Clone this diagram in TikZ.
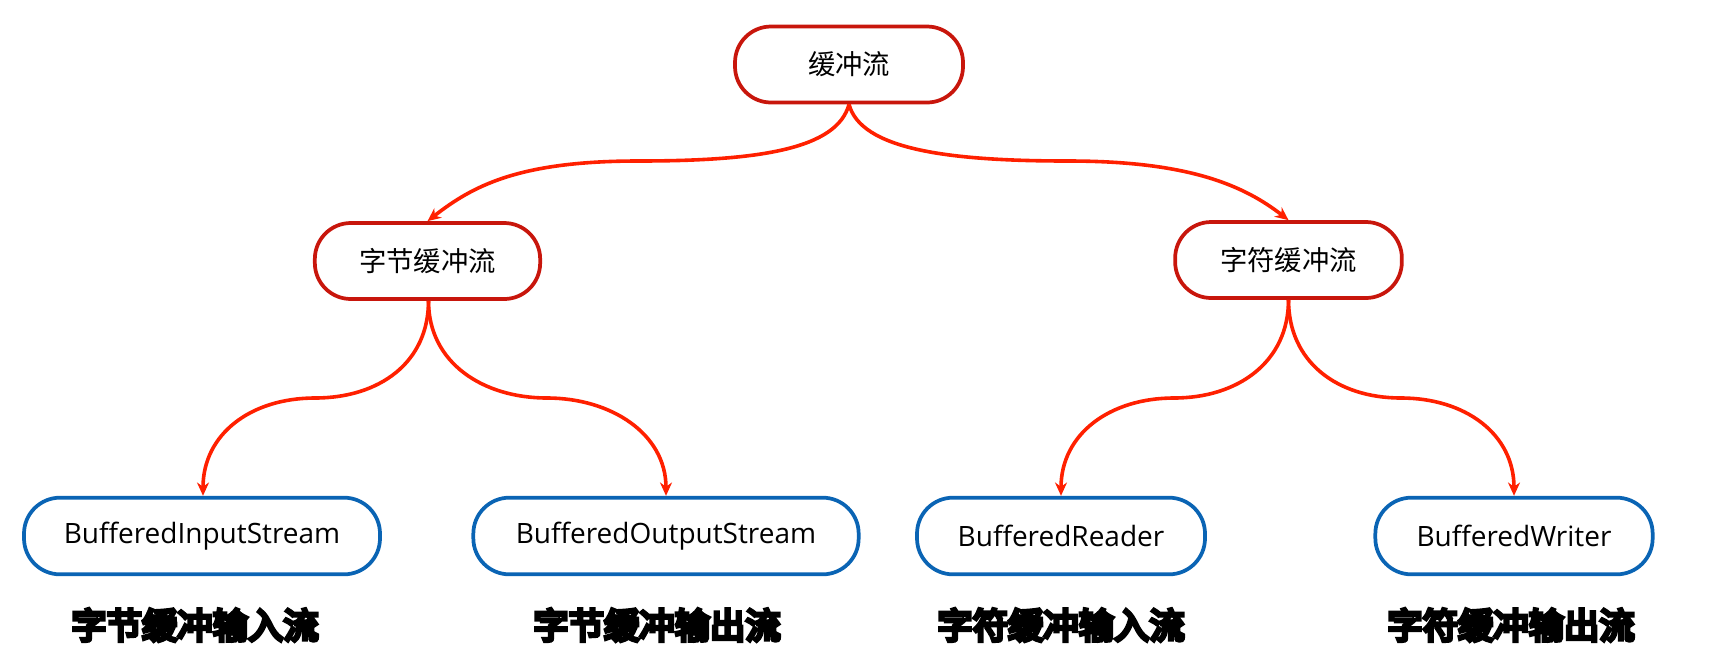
\documentclass[tikz,border=0pt]{standalone}
\usepackage{fontspec}
\setmainfont{Open Sans}
\newfontfamily\cjk{Noto Sans CJK SC}
\newfontfamily\cjkheavy[FakeBold=10]{Noto Sans CJK SC}
\usetikzlibrary{arrows.meta}
\definecolor{nodered}{RGB}{200,22,12}
\definecolor{linkred}{RGB}{255,32,0}
\definecolor{nodeblue}{RGB}{10,100,180}
\tikzset{
  redbox/.style={draw=nodered, line width=2.8pt, rounded corners=27pt, fill=white,
    minimum height=57pt, inner sep=0pt, font=\cjk\fontsize{20.5}{24}\selectfont},
  bluebox/.style={draw=nodeblue, line width=2.8pt, rounded corners=27pt, fill=white,
    minimum height=57.5pt, inner sep=0pt, font=\fontsize{21}{25}\selectfont},
  heavylabel/.style={font=\cjkheavy\fontsize{26.5}{31}\selectfont, text=black},
  link/.style={draw=linkred, line width=2.7pt, -{Stealth[length=10pt,width=9pt]}}
}
\begin{document}
\begin{tikzpicture}[x=0.75pt, y=-0.75pt]
\useasboundingbox (0,0) rectangle (1723,669);
\node[redbox, minimum width=171pt] (root) at (849,64.5) {缓冲流};
\node[redbox, minimum width=169pt] (byte) at (427.5,261) {字节缓冲流};
\node[redbox, minimum width=170pt] (char) at (1288.5,260) {字符缓冲流};
\node[bluebox, minimum width=267pt] (bis) at (202,536) {BufferedInputStream};
\node[bluebox, minimum width=289pt] (bos) at (666,536) {BufferedOutputStream};
\node[bluebox, minimum width=216pt] (br) at (1061,536) {BufferedReader};
\node[bluebox, minimum width=208pt] (bw) at (1514,536) {BufferedWriter};
\node[heavylabel] (lbis) at (195,625) {字节缓冲输入流};
\node[heavylabel] (lbos) at (657,625) {字节缓冲输出流};
\node[heavylabel] (lbr) at (1061,625) {字符缓冲输入流};
\node[heavylabel] (lbw) at (1511,625) {字符缓冲输出流};
\coordinate (m0) at (638,161);
\coordinate (m1) at (1068,161);
\coordinate (m2) at (315,398);
\coordinate (m3) at (547,398);
\coordinate (m4) at (1174,398);
\coordinate (m5) at (1401,398);
\draw[link] (root.south) .. controls +(-12,45) and +(120,0) .. (m0) .. controls +(-120,0) and +(45,-35) .. (byte.north);
\draw[link] (root.south) .. controls +(12,45) and +(-120,0) .. (m1) .. controls +(120,0) and +(-45,-35) .. (char.north);
\draw[link] ([xshift=0.75pt]byte.south) .. controls +(0,62) and +(64,0) .. (m2) .. controls +(-64,0) and +(0,-62) .. ([xshift=0.75pt]bis.north);
\draw[link] ([xshift=0.75pt]byte.south) .. controls +(0,62) and +(-64,0) .. (m3) .. controls +(64,0) and +(0,-62) .. (bos.north);
\draw[link] (char.south) .. controls +(0,62) and +(64,0) .. (m4) .. controls +(-64,0) and +(0,-62) .. (br.north);
\draw[link] (char.south) .. controls +(0,62) and +(-64,0) .. (m5) .. controls +(64,0) and +(0,-62) .. (bw.north);
\end{tikzpicture}
\end{document}
